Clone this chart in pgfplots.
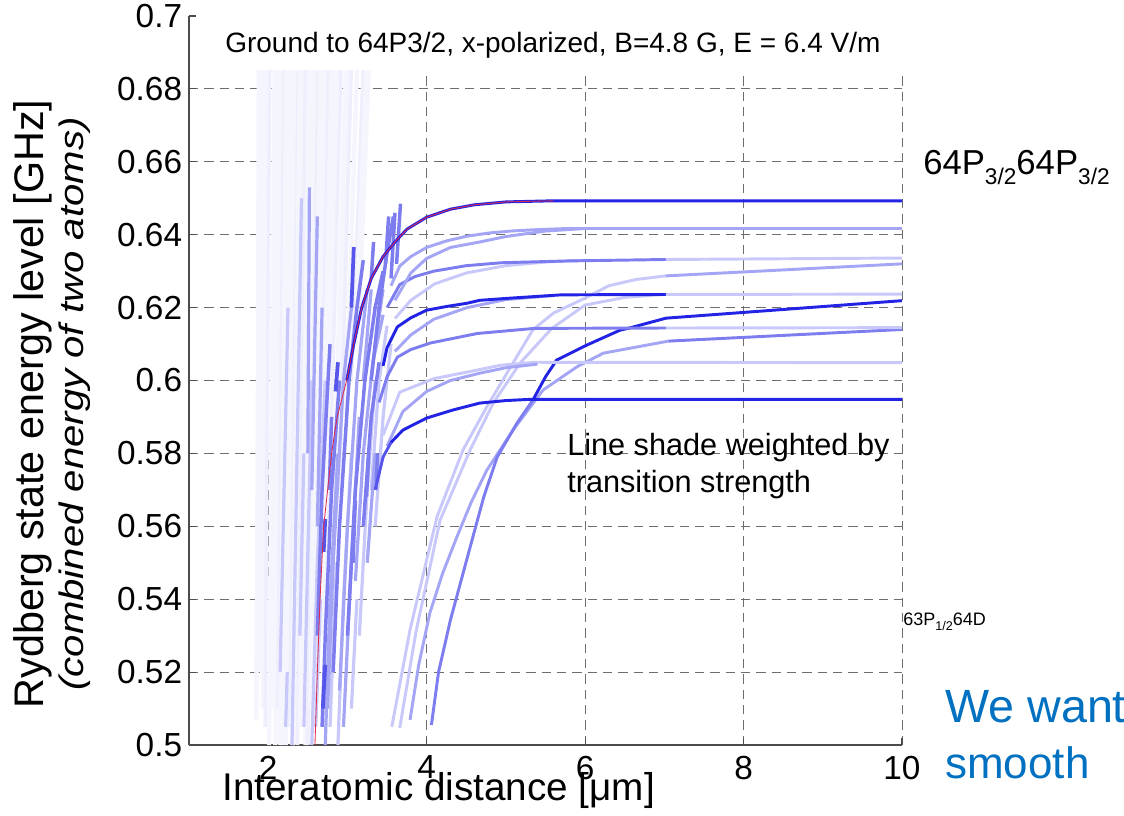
\documentclass[border=0pt]{standalone}
\usepackage{fontspec}
\setmainfont{Liberation Sans}
\usepackage{graphicx}
\usepackage{pgfplots}
\pgfplotsset{compat=1.18}
\definecolor{c1}{RGB}{35,35,230}
\definecolor{c2}{RGB}{85,85,235}
\definecolor{c3}{RGB}{125,125,240}
\definecolor{c4}{RGB}{165,165,245}
\definecolor{c5}{RGB}{200,200,250}
\definecolor{c6}{RGB}{238,238,253}
\definecolor{c7}{RGB}{245,245,254}
\definecolor{gridc}{RGB}{110,110,110}
\definecolor{slideblue}{RGB}{0,112,192}
\pgfplotsset{
  L1/.style={c1, line width=2.2pt, no marks, line join=round},
  L2/.style={c2, line width=2.2pt, no marks, line join=round},
  L3/.style={c3, line width=2.2pt, no marks, line join=round},
  L4/.style={c4, line width=2.2pt, no marks, line join=round},
  L5/.style={c5, line width=2.2pt, no marks, line join=round},
  L6/.style={c6, line width=2.6pt, no marks},
  L7/.style={c7, line width=3.2pt, no marks},
  S2/.style={c2, line width=2.8pt, no marks},
  S3/.style={c3, line width=2.6pt, no marks},
  S4/.style={c4, line width=2.4pt, no marks},
  S5/.style={c5, line width=2.4pt, no marks},
}
\begin{document}
\begin{tikzpicture}
\path[use as bounding box] (-141.75pt,-52.5pt) rectangle (701.25pt,558.75pt);
\begin{axis}[
  scale only axis, width=534.75pt, height=546.75pt,
  at={(0pt,0pt)}, anchor=south west,
  xmin=1, xmax=10, ymin=0.5, ymax=0.7,
  axis x line*=bottom, axis y line*=left,
  axis line style={draw=black!70, line width=0.8pt, -},
  xtick={2,4,6,8,10}, xticklabels={2,4,6,8,10},
  ytick={0.5,0.52,0.54,0.56,0.58,0.6,0.62,0.64,0.66,0.68},
  yticklabels={0.5,0.52,0.54,0.56,0.58,0.6,0.62,0.64,0.66,0.68},
  extra y ticks={0.7}, extra y tick labels={0.7}, extra y tick style={grid=none},
  grid=major,
  major grid style={gridc, line width=0.75pt, dash pattern=on 7pt off 4.5pt},
  tick align=inside, major tick length=5pt,
  tick style={black!70, line width=0.8pt},
  ticklabel style={font=\fontsize{25}{25}\selectfont},
  /pgf/number format/assume math mode=true,
  xticklabel style={anchor=north, inner sep=0pt, yshift=-8pt},
  yticklabel style={anchor=east, inner sep=0pt, xshift=-5pt},
]
% ---------- very faint steep lines (left fan)
\addplot[L7] coordinates {(1.85,0.507)(1.87,0.60)(1.88,0.686)};
\addplot[L7] coordinates {(1.88,0.52)(1.92,0.686)};
\addplot[L7] coordinates {(1.90,0.52)(1.95,0.686)};
\addplot[L7] coordinates {(1.93,0.51)(1.99,0.686)};
\addplot[L6] coordinates {(1.96,0.505)(2.02,0.686)};
\addplot[L7] coordinates {(2.01,0.50)(2.08,0.686)};
\addplot[L7] coordinates {(2.04,0.51)(2.10,0.686)};
\addplot[L7] coordinates {(2.06,0.515)(2.12,0.686)};
\addplot[L7] coordinates {(2.09,0.50)(2.16,0.686)};
\addplot[L6] coordinates {(2.12,0.51)(2.20,0.686)};
\addplot[L7] coordinates {(2.15,0.50)(2.23,0.686)};
\addplot[L7] coordinates {(2.17,0.50)(2.25,0.686)};
\addplot[L7] coordinates {(2.20,0.505)(2.28,0.686)};
\addplot[L7] coordinates {(2.22,0.50)(2.31,0.686)};
\addplot[L7] coordinates {(2.25,0.51)(2.35,0.686)};
\addplot[L6] coordinates {(2.27,0.505)(2.38,0.686)};
\addplot[L7] coordinates {(2.30,0.50)(2.40,0.686)};
\addplot[L7] coordinates {(2.32,0.50)(2.43,0.686)};
\addplot[L6] coordinates {(2.37,0.50)(2.47,0.686)};
\addplot[L7] coordinates {(2.40,0.505)(2.52,0.686)};
\addplot[L7] coordinates {(2.43,0.51)(2.56,0.686)};
\addplot[L7] coordinates {(2.47,0.50)(2.60,0.686)};
\addplot[L6] coordinates {(2.50,0.50)(2.63,0.686)};
\addplot[L7] coordinates {(2.53,0.51)(2.66,0.686)};
\addplot[L7] coordinates {(2.56,0.52)(2.69,0.686)};
\addplot[L7] coordinates {(2.59,0.52)(2.73,0.686)};
\addplot[L6] coordinates {(2.62,0.52)(2.76,0.686)};
\addplot[L7] coordinates {(2.65,0.53)(2.80,0.686)};
\addplot[L7] coordinates {(2.68,0.53)(2.84,0.686)};
\addplot[L7] coordinates {(2.72,0.54)(2.88,0.686)};
\addplot[L6] coordinates {(2.75,0.55)(2.92,0.686)};
\addplot[L7] coordinates {(2.82,0.56)(2.98,0.686)};
\addplot[L7] coordinates {(2.86,0.565)(3.02,0.686)};
\addplot[L6] coordinates {(2.90,0.57)(3.05,0.686)};
\addplot[L7] coordinates {(2.98,0.59)(3.12,0.686)};
\addplot[L6] coordinates {(3.05,0.60)(3.20,0.686)};
\addplot[L7] coordinates {(3.10,0.61)(3.24,0.686)};
\addplot[L7] coordinates {(3.15,0.62)(3.27,0.686)};
% ---------- light partial lines
\addplot[S5] coordinates {(2.15,0.52)(2.25,0.62)};
\addplot[S5] coordinates {(2.30,0.50)(2.42,0.65)};
\addplot[S5] coordinates {(2.45,0.505)(2.55,0.60)};
\addplot[S5] coordinates {(2.40,0.53)(2.45,0.58)};
\addplot[S5] coordinates {(2.22,0.505)(2.24,0.52)};
\addplot[S5] coordinates {(2.55,0.50)(2.62,0.55)(2.72,0.60)};
\addplot[S5] coordinates {(2.60,0.505)(2.66,0.54)};
\addplot[S4] coordinates {(2.72,0.50)(2.78,0.54)(2.88,0.58)};
\addplot[S5] coordinates {(2.78,0.505)(2.86,0.55)};
\addplot[S5] coordinates {(2.88,0.50)(2.95,0.54)(3.05,0.58)};
\addplot[S4] coordinates {(2.95,0.505)(3.05,0.55)(3.15,0.59)};
\addplot[S5] coordinates {(3.05,0.51)(3.12,0.54)};
\addplot[S5] coordinates {(3.15,0.53)(3.25,0.57)(3.35,0.60)};
\addplot[S4] coordinates {(3.20,0.60)(3.30,0.625)};
\addplot[S4] coordinates {(3.35,0.61)(3.45,0.625)};
\addplot[S4] coordinates {(2.50,0.58)(2.52,0.653)};
\addplot[S4] coordinates {(2.55,0.57)(2.62,0.645)};
\addplot[S4] coordinates {(2.62,0.56)(2.68,0.62)};
\addplot[S5] coordinates {(3.30,0.57)(3.40,0.60)(3.50,0.615)};
\addplot[S5] coordinates {(3.35,0.56)(3.45,0.59)(3.55,0.61)};
\addplot[S4] coordinates {(3.25,0.55)(3.35,0.58)};
% ---------- medium steep lines
\addplot[S3] coordinates {(2.62,0.53)(2.68,0.57)(2.78,0.61)};
\addplot[S3] coordinates {(2.68,0.505)(2.72,0.53)(2.80,0.57)(2.90,0.60)};
\addplot[S4] coordinates {(2.75,0.51)(2.82,0.55)(2.95,0.60)(3.05,0.62)};
\addplot[S3] coordinates {(2.82,0.52)(2.90,0.56)(3.02,0.60)(3.12,0.62)(3.20,0.633)};
\addplot[S4] coordinates {(2.90,0.515)(3.00,0.56)(3.12,0.60)(3.25,0.625)};
\addplot[S3] coordinates {(3.00,0.53)(3.10,0.57)(3.22,0.60)(3.35,0.62)(3.45,0.63)};
\addplot[S4] coordinates {(3.10,0.545)(3.20,0.58)(3.32,0.605)(3.45,0.618)};
\addplot[S3] coordinates {(3.20,0.56)(3.30,0.59)(3.40,0.605)};
\addplot[S3] coordinates {(3.30,0.60)(3.40,0.62)(3.50,0.635)(3.58,0.645)};
\addplot[S3] coordinates {(3.48,0.632)(3.52,0.645)};
\addplot[S3] coordinates {(3.55,0.628)(3.60,0.646)};
\addplot[S3] coordinates {(3.62,0.632)(3.67,0.6485)};
\addplot[S3] coordinates {(3.30,0.628)(3.33,0.638)};
\addplot[S3] coordinates {(2.77,0.57)(2.80,0.59)};
\addplot[S3] coordinates {(3.07,0.55)(3.10,0.567)};
\addplot[S3] coordinates {(3.24,0.568)(3.27,0.58)};
\addplot[S3] coordinates {(3.36,0.57)(3.38,0.58)};
\addplot[S2] coordinates {(2.69,0.51)(2.72,0.522)};
\addplot[S2] coordinates {(2.70,0.553)(2.72,0.562)};
\addplot[S2] coordinates {(2.85,0.597)(2.88,0.605)};
\addplot[S2] coordinates {(3.05,0.62)(3.08,0.6366)};
% ---------- steep curves from the bottom (x about 3.5 to 4.1)
\addplot[L5] coordinates {(3.56,0.505)(3.79,0.5316)(4.13,0.5626)(4.46,0.581)(4.76,0.5928)(5.09,0.6048)(5.34,0.6139)(5.6,0.6185)(6.0,0.6226)(6.3,0.626)(6.64,0.6277)(7.02,0.6287)};
\addplot[L4] coordinates {(7.02,0.6287)(10,0.632)};
\addplot[L5] coordinates {(3.66,0.5047)(3.87,0.5316)(4.17,0.5617)(4.55,0.581)(4.84,0.5938)(5.18,0.6048)(5.58,0.6143)(6.0,0.6207)(6.5,0.6228)(7.0,0.6236)};
\addplot[L4] coordinates {(3.79,0.5069)(3.9,0.522)(4.04,0.5362)(4.2,0.547)(4.38,0.557)(4.56,0.5665)(4.76,0.5754)(5.09,0.5864)(5.47,0.5974)(5.9,0.6038)(6.23,0.6075)(7.05,0.6108)};
\addplot[L3] coordinates {(7.05,0.6108)(10,0.614)};
\addplot[L3] coordinates {(4.06,0.5055)(4.15,0.52)(4.3,0.5343)(4.55,0.5544)(4.72,0.568)(4.89,0.579)(5.14,0.5883)(5.34,0.5946)};
\addplot[L1] coordinates {(5.34,0.5946)(5.5,0.601)(5.64,0.6056)(6.02,0.6097)(6.44,0.6138)(6.56,0.6144)(7.02,0.6171)(10,0.6219)};
% ---------- asymptotic curves
\addplot[L5] coordinates {(3.45,0.585)(3.66,0.5968)(4.09,0.6005)(4.51,0.6023)(4.94,0.6042)(5.36,0.605)(10,0.6049)};
\addplot[L4] coordinates {(3.5,0.582)(3.7,0.5915)(4.0,0.597)(4.3,0.600)(4.67,0.602)(5.0,0.6035)(5.4,0.6045)};
\addplot[L2] coordinates {(3.35,0.57)(3.45,0.579)(3.55,0.583)};
\addplot[L1] coordinates {(3.55,0.583)(3.7,0.5864)(4.0,0.5897)(4.33,0.5919)(4.67,0.5938)(5.0,0.5945)(5.28,0.5948)(10,0.5948)};
\addplot[L3] coordinates {(3.4,0.594)(3.5,0.601)(3.63,0.6064)(3.8,0.6085)(4.05,0.6103)(4.64,0.6129)(5.36,0.6143)(7.02,0.6144)};
\addplot[L5] coordinates {(7.02,0.6144)(10,0.6145)};
\addplot[L4] coordinates {(3.6,0.608)(3.8,0.6125)(4.09,0.6168)(4.51,0.620)(5.0,0.6222)(5.6,0.6233)};
\addplot[L1] coordinates {(3.45,0.604)(3.5,0.609)(3.63,0.6147)(3.8,0.6172)(4.0,0.6193)(4.25,0.6203)(4.51,0.6212)(4.67,0.622)(5.06,0.6226)(5.7,0.6235)(7.02,0.6236)};
\addplot[L5] coordinates {(7.02,0.6236)(10,0.6237)};
\addplot[L5] coordinates {(3.6,0.617)(3.8,0.622)(4.1,0.6265)(4.5,0.6295)(5.0,0.6315)(5.5,0.6325)(6.0,0.633)};
\addplot[L3] coordinates {(3.5,0.62)(3.66,0.6263)(3.85,0.6285)(4.09,0.630)(4.5,0.6315)(4.94,0.6323)(5.78,0.6328)(7.02,0.6332)};
\addplot[L5] coordinates {(7.02,0.6332)(10,0.6336)};
\addplot[L4] coordinates {(3.6,0.622)(3.8,0.6295)(4.0,0.6335)(4.3,0.6365)(4.67,0.638)(5.0,0.6395)(5.5,0.641)(6.0,0.6417)};
\addplot[L4] coordinates {(3.55,0.626)(3.66,0.6314)(3.8,0.634)(4.0,0.6365)(4.25,0.6383)(4.51,0.6396)(4.8,0.6405)(5.06,0.641)(5.4,0.6414)(5.78,0.6417)(10,0.6417)};
% ---------- top dark curve and red reference curve
\addplot[L1] coordinates {(2.99,0.60)(3.08,0.61)(3.18,0.62)(3.3,0.628)(3.45,0.634)(3.6,0.638)(3.75,0.6415)(4.0,0.6448)(4.3,0.647)(4.6,0.6482)(5.0,0.649)(5.6,0.6493)(10,0.6493)};
\addplot[color={rgb,255:red,225;green,40;blue,70}, line width=0.6pt, no marks] coordinates {(2.59,0.5)(2.62,0.52)(2.654,0.54)(2.7,0.56)(2.8,0.58)(2.87,0.59)(2.99,0.6)(3.08,0.61)(3.18,0.62)(3.3,0.628)(3.45,0.634)(3.6,0.638)(3.75,0.6415)(4.0,0.6448)(4.3,0.647)(4.6,0.6482)(5.0,0.649)(5.6,0.6493)};
\end{axis}
% ---------- white title box covering the top band
\fill[white] (6pt,506pt) rectangle (545pt,546.75pt);
% ---------- texts
\node[anchor=base west, inner sep=0pt, font=\fontsize{21}{21}\selectfont] at (27pt,519pt) {Ground to 64P3/2, x-polarized, B=4.8 G, E = 6.4 V/m};
\node[anchor=base west, inner sep=0pt, font=\fontsize{26}{26}\selectfont] at (550.5pt,427.5pt) {64P\raisebox{-7.5pt}{\fontsize{17}{17}\selectfont 3/2}64P\raisebox{-7.5pt}{\fontsize{17}{17}\selectfont 3/2}};
\node[anchor=base west, inner sep=0pt, font=\fontsize{13.5}{13.5}\selectfont] at (535.5pt,90pt) {63P\raisebox{-4pt}{\fontsize{9.5}{9.5}\selectfont 1/2}64D};
\node[anchor=base west, inner sep=0pt, font=\fontsize{23}{23}\selectfont] at (283.5pt,217.5pt) {Line shade weighted by};
\node[anchor=base west, inner sep=0pt, font=\fontsize{23}{23}\selectfont] at (283.5pt,189.75pt) {transition strength};
\node[anchor=base west, inner sep=0pt, font=\fontsize{35}{35}\selectfont, text=slideblue] at (567pt,17.25pt) {We want};
\node[anchor=base west, inner sep=0pt, font=\fontsize{33}{33}\selectfont, text=slideblue] at (567pt,-24.75pt) {smooth};
\node[anchor=base west, inner sep=0pt, font=\fontsize{29}{29}\selectfont] at (24.75pt,-41.25pt) {Interatomic distance [μm]};
\node[rotate=90, inner sep=0pt, font=\fontsize{31}{31}\selectfont] at (-117pt,255.75pt) {Rydberg state energy level [GHz]};
\node[rotate=90, inner sep=0pt, font=\fontsize{25.5}{25.5}\selectfont\itshape] at (-86pt,255.75pt) {\scalebox{1.18}[1]{(combined energy of two atoms)}};
\end{tikzpicture}
\end{document}
